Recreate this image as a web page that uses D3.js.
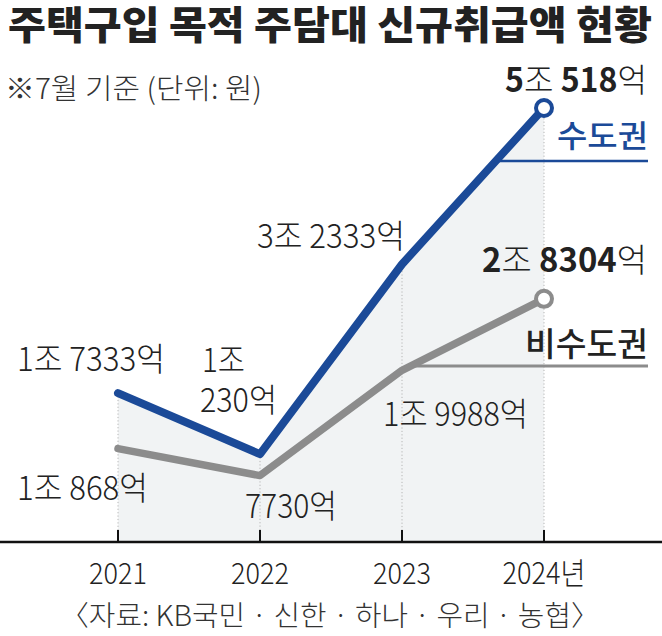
<!DOCTYPE html>
<html>
<head>
<meta charset="utf-8">
<script src="https://cdn.jsdelivr.net/npm/d3@7"></script>
<style>
  html, body { margin: 0; padding: 0; background: #fff; }
  svg { display: block; }
  text { font-family: "Noto Sans CJK KR", "Noto Sans", sans-serif; }
</style>
</head>
<body>
<svg id="chart" width="662" height="636"></svg>
<script>
// ---- data ----
const years = ["2021", "2022", "2023", "2024"];
const yearLabels = ["2021", "2022", "2023", "2024년"];
const capital = [17333, 10230, 32333, 50518];      // 수도권 (억원)
const nonCapital = [10868, 7730, 19988, 28304];    // 비수도권 (억원)
const seriesNames = ["수도권", "비수도권"];
const title = "주택구입 목적 주담대 신규취급액 현황";
const subtitle = "※7월 기준 (단위: 원)";
const source = "〈자료: KB국민 · 신한 · 하나 · 우리 · 농협〉";

// ---- layout ----
const W = 662, H = 636;
const blue = "#1b4a98", grey = "#8c8c8c", ink = "#222";
const svg = d3.select("#chart");

const x = d3.scalePoint().domain(years).range([118, 544]);
const y = d3.scaleLinear().domain([0, 55000]).range([542, 69.5]);

// label offsets relative to each data point: [dx, dy(baseline), width]
const capLabelLayout = [
  [[-101, -22, 148]],
  [[-58, -82, 43], [-60, -42, 77]],
  [[-145, -16, 148]],
  [[-39, -16, 142]]
];
const nonLabelLayout = [
  [[-101, 51, 131]],
  [[-15, 42, 92]],
  [[-19, 56, 145]],
  [[-62, -27, 165]]
];

function fmt(v) {
  const jo = Math.floor(v / 10000), eok = v % 10000;
  const parts = [];
  if (jo > 0) parts.push({ n: String(jo), u: "조" });
  if (eok > 0) parts.push({ n: String(eok), u: "억" });
  return parts;
}

// fit a text to a given width by horizontal scaling
function fitText(parent, build, left, baseline, width, opts) {
  const g = parent.append("g");
  const t = g.append("text").attr("x", 0).attr("y", 0)
    .attr("font-size", opts.size).attr("fill", opts.fill || ink)
    .attr("font-weight", opts.weight || 400);
  build(t);
  const w0 = t.node().getComputedTextLength();
  const sx = width / w0;
  g.attr("transform", `translate(${left},${baseline}) scale(${sx},1)`);
  return g;
}

// ---- title / subtitle ----
fitText(svg, t => t.text(title), 8, 39, 644, { size: 39, weight: 900, fill: "#222" });
fitText(svg, t => t.text(subtitle), 5, 99, 257, { size: 29, weight: 300, fill: "#333" });

// ---- area under 수도권 ----
const area = d3.area().x((d, i) => x(years[i])).y0(y(0)).y1(d => y(d));
svg.append("path").datum(capital).attr("d", area).attr("fill", "#f1f3f4");

// dotted verticals
svg.append("g").selectAll("line").data(years).join("line")
  .attr("x1", d => x(d)).attr("x2", d => x(d))
  .attr("y1", (d, i) => y(capital[i])).attr("y2", y(0))
  .attr("stroke", "#b5b5b5").attr("stroke-width", 1).attr("stroke-dasharray", "1.2,2.2");

// axis
svg.append("line").attr("x1", 0).attr("x2", W).attr("y1", y(0)).attr("y2", y(0))
  .attr("stroke", "#111").attr("stroke-width", 2.5);
svg.append("g").selectAll("line").data(years).join("line")
  .attr("x1", d => x(d)).attr("x2", d => x(d))
  .attr("y1", y(0) - 12).attr("y2", y(0))
  .attr("stroke", "#111").attr("stroke-width", 2);

// year labels
const tmp = svg.append("text").attr("font-size", 30).attr("font-weight", 300).text(yearLabels[0]);
const yearScale = 58 / tmp.node().getComputedTextLength();
tmp.remove();
yearLabels.forEach((lab, i) => {
  const g = svg.append("g");
  g.append("text").attr("font-size", 30).attr("font-weight", 300)
    .attr("fill", ink).attr("text-anchor", "middle").text(lab);
  g.attr("transform", `translate(${x(years[i])},584) scale(${yearScale},1)`);
});

// series underline leaders
function crossX(vals, yy) {
  for (let i = 0; i < vals.length - 1; i++) {
    const a = y(vals[i]), b = y(vals[i + 1]);
    if ((a - yy) * (b - yy) <= 0 && a !== b) {
      const f = (yy - a) / (b - a);
      return x(years[i]) + f * (x(years[i + 1]) - x(years[i]));
    }
  }
  return x(years[0]);
}
svg.append("line").attr("x1", crossX(capital, 161)).attr("x2", 648)
  .attr("y1", 161).attr("y2", 161).attr("stroke", blue).attr("stroke-width", 2.5);
svg.append("line").attr("x1", crossX(nonCapital, 366)).attr("x2", 648)
  .attr("y1", 366).attr("y2", 366).attr("stroke", grey).attr("stroke-width", 3);

// lines
const line = d3.line().x((d, i) => x(years[i])).y(d => y(d));
svg.append("path").datum(nonCapital).attr("d", line).attr("fill", "none")
  .attr("stroke", grey).attr("stroke-width", 7.5)
  .attr("stroke-linecap", "round").attr("stroke-linejoin", "round");
svg.append("path").datum(capital).attr("d", line).attr("fill", "none")
  .attr("stroke", blue).attr("stroke-width", 8)
  .attr("stroke-linecap", "round").attr("stroke-linejoin", "round");

// end circles
[[capital, blue], [nonCapital, grey]].forEach(([vals, c]) => {
  const i = vals.length - 1;
  svg.append("circle").attr("cx", x(years[i])).attr("cy", y(vals[i])).attr("r", 8)
    .attr("fill", "#fff").attr("stroke", c).attr("stroke-width", 4);
});

// value labels
function drawLabels(vals, layout) {
  vals.forEach((v, i) => {
    const px = x(years[i]), py = y(v);
    const parts = fmt(v);
    const last = i === vals.length - 1;
    const lines = layout[i].length === 1 ? [parts] : parts.map(p => [p]);
    lines.forEach((ps, k) => {
      const [dx, dy, w] = layout[i][k];
      fitText(svg, t => {
        ps.forEach((p, j) => {
          t.append("tspan").attr("font-weight", last ? 700 : 300).text((j > 0 ? " " : "") + p.n);
          t.append("tspan").attr("font-weight", 300).text(p.u);
        });
      }, px + dx, py + dy, w, { size: 33, weight: 300, fill: ink });
    });
  });
}
drawLabels(capital, capLabelLayout);
drawLabels(nonCapital, nonLabelLayout);

// series names
fitText(svg, t => t.text(seriesNames[0]), 557, 147, 91, { size: 31, weight: 500, fill: blue });
fitText(svg, t => t.text(seriesNames[1]), 525, 356, 123, { size: 33, weight: 500, fill: "#222" });

// source
fitText(svg, t => t.text(source), 60, 626, 540, { size: 28, weight: 300, fill: "#333" });
</script>
</body>
</html>
